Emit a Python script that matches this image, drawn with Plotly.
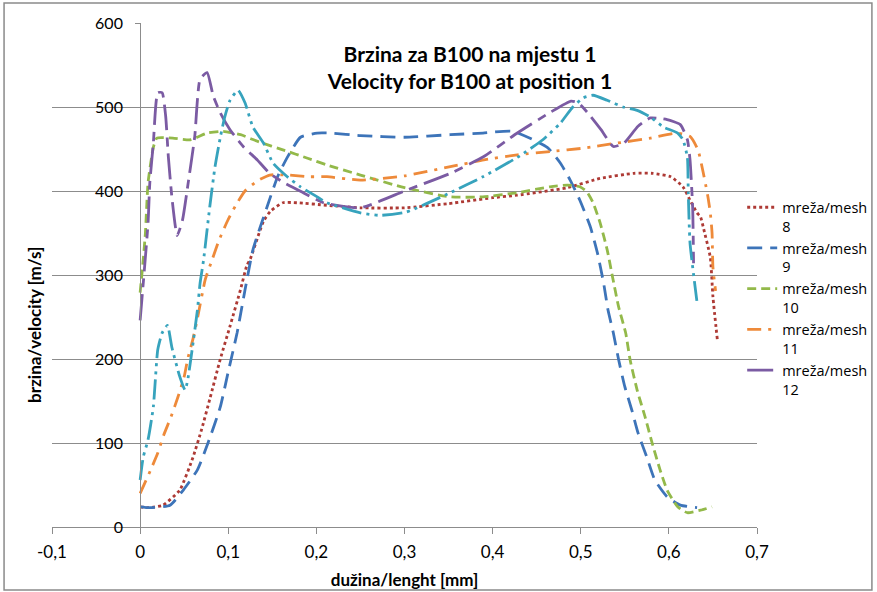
import plotly.graph_objects as go

# ---- data ----
x_m8 = [0, 0.01, 0.026, 0.045, 0.06, 0.07, 0.079, 0.091, 0.102, 0.114, 0.121, 0.125, 0.14, 0.148, 0.162, 0.178,
        0.212, 0.25, 0.3, 0.35, 0.4, 0.428, 0.485, 0.522, 0.56, 0.582, 0.602, 0.616, 0.624, 0.632, 0.636, 0.639,
        0.647, 0.65, 0.655]
y_m8 = [24, 23, 26, 44, 83, 117, 152, 200, 239, 283, 311, 319, 364, 376, 386, 386,
        383, 380, 380, 385, 392, 395, 404, 415, 421, 421, 417, 405, 389, 374, 369, 357,
        321, 274, 223]

x_m9 = [0, 0.011, 0.034, 0.049, 0.065, 0.077, 0.091, 0.1, 0.11, 0.119, 0.128, 0.144, 0.156, 0.167, 0.182, 0.201,
        0.216, 0.25, 0.3, 0.352, 0.389, 0.423, 0.462, 0.477, 0.488, 0.499, 0.511, 0.519, 0.526, 0.531, 0.537,
        0.543, 0.55, 0.558, 0.565, 0.575, 0.584, 0.598, 0.613, 0.632]
y_m9 = [24, 23, 26, 44, 68, 100, 143, 185, 231, 282, 330, 381, 417, 440, 464, 469,
        469, 466, 464, 467, 469, 471, 452, 433, 413, 389, 357, 326, 290, 258, 231,
        199, 167, 139, 112, 83, 56, 36, 26, 23]

x_m10 = [0, 0.0035, 0.006, 0.009, 0.015, 0.019, 0.037, 0.057, 0.076, 0.094, 0.114, 0.136, 0.162, 0.19, 0.212,
         0.25, 0.3, 0.352, 0.389, 0.428, 0.465, 0.485, 0.499, 0.507, 0.514, 0.522, 0.53, 0.536, 0.543, 0.551,
         0.556, 0.564, 0.573, 0.581, 0.59, 0.598, 0.61, 0.621, 0.636, 0.649]
y_m10 = [279, 318, 350, 410, 452, 463, 463, 461, 469, 471, 467, 458, 449, 439, 431,
         419, 404, 393, 393, 398, 405, 407, 405, 399, 386, 362, 330, 298, 262, 231,
         199, 163, 131, 100, 68, 44, 24, 17, 20, 24]

x_m11 = [0, 0.012, 0.02, 0.027, 0.035, 0.043, 0.05, 0.054, 0.06, 0.065, 0.074, 0.082, 0.089, 0.099, 0.108,
         0.119, 0.133, 0.147, 0.167, 0.192, 0.212, 0.25, 0.3, 0.352, 0.39, 0.428, 0.466, 0.503, 0.541, 0.579,
         0.609, 0.624, 0.633, 0.644, 0.647, 0.649, 0.65, 0.653]
y_m11 = [40, 68, 88, 110, 131, 155, 179, 200, 224, 248, 295, 319, 340, 364, 382,
         400, 412, 419, 419, 417, 417, 413, 418, 429, 437, 443, 447, 451, 457, 463,
         469, 465, 449, 395, 374, 350, 309, 281]

x_m12 = [0, 0.009, 0.011, 0.015, 0.02, 0.025, 0.029, 0.032, 0.036, 0.042, 0.048, 0.055, 0.062, 0.068, 0.076,
         0.083, 0.091, 0.102, 0.117, 0.133, 0.147, 0.163, 0.185, 0.208, 0.25, 0.3, 0.352, 0.39, 0.428, 0.466,
         0.489, 0.497, 0.508, 0.523, 0.537, 0.549, 0.565, 0.579, 0.598, 0.613, 0.621, 0.624, 0.627, 0.628]
y_m12 = [246, 362, 410, 457, 517, 517, 489, 441, 393, 347, 365, 413, 465, 533, 541,
         513, 493, 473, 453, 437, 421, 410, 398, 386, 380, 400, 421, 441, 469, 494,
         507, 505, 493, 473, 453, 457, 477, 487, 485, 479, 461, 437, 380, 314]

x_m13 = [0, 0.0035, 0.009, 0.015, 0.02, 0.025, 0.031, 0.036, 0.045, 0.051, 0.054, 0.059, 0.065, 0.068, 0.072,
         0.079, 0.085, 0.091, 0.096, 0.102, 0.111, 0.119, 0.128, 0.14, 0.151, 0.167, 0.182, 0.201, 0.212, 0.25,
         0.272, 0.302, 0.352, 0.389, 0.428, 0.457, 0.477, 0.491, 0.503, 0.514, 0.53, 0.548, 0.564, 0.579, 0.594,
         0.61, 0.616, 0.621, 0.622, 0.624, 0.632]
y_m13 = [56, 83, 104, 143, 211, 231, 240, 214, 179, 163, 175, 211, 258, 290, 318,
         381, 429, 464, 488, 508, 520, 505, 476, 457, 433, 417, 405, 393, 386, 374,
         371, 375, 398, 417, 440, 461, 481, 500, 511, 514, 508, 500, 496, 488, 476,
         469, 461, 440, 398, 338, 267]

series_names = ["mreža/mesh<br>8", "mreža/mesh<br>9", "mreža/mesh<br>10", "mreža/mesh<br>11",
                "mreža/mesh<br>12", "mreža/mesh<br>13"]

x_tick_vals = [-0.1, 0, 0.1, 0.2, 0.3, 0.4, 0.5, 0.6, 0.7]
x_tick_text = ["-0,1", "0", "0,1", "0,2", "0,3", "0,4", "0,5", "0,6", "0,7"]
y_tick_vals = [0, 100, 200, 300, 400, 500, 600]

title_lines = ["Brzina za B100 na mjestu 1", "Velocity for B100 at position 1"]
x_title = "dužina/lenght [mm]"
y_title = "brzina/velocity [m/s]"

# ---- styles ----
colors = ["#AE3A35", "#3D74B9", "#93B94A", "#EE8A3A", "#7B5BA3", "#37A3BD"]
dashes = ["3px,3px", "15px,8px", "9px,5px", "14px,7px,3px,7px", "26px,7px,9px,7px",
          "20px,5px,3px,5px,3px,5px"]
show_leg = [True, True, True, True, True, False]

xs = [x_m8, x_m9, x_m10, x_m11, x_m12, x_m13]
ys = [y_m8, y_m9, y_m10, y_m11, y_m12, y_m13]

FONT = "Lato, 'Open Sans', sans-serif"
LEGFONT = "'Open Sans', Lato, sans-serif"
GRID = "#8C8C8C"

fig = go.Figure()
for i in range(len(xs)):
    fig.add_trace(go.Scatter(
        x=xs[i], y=ys[i], mode="lines", name=series_names[i],
        showlegend=show_leg[i],
        line=dict(color=colors[i], width=2.8, dash=dashes[i], shape="spline", smoothing=0.5),
    ))

fig.update_layout(
    width=877, height=592,
    margin=dict(l=52, r=120, t=23, b=65, autoexpand=False),
    paper_bgcolor="white", plot_bgcolor="white",
    font=dict(family=FONT, size=16, color="#000000"),
    title=dict(text="<b>" + title_lines[0] + "</b><br><b>" + title_lines[1] + "</b>",
               x=470 / 877, xanchor="center", y=1 - 62 / 592, yanchor="top",
               font=dict(family=FONT, size=21, color="#000000")),
    showlegend=True,
    legend=dict(x=0.979, xanchor="left", y=0.666, yanchor="top",
                font=dict(family=LEGFONT, size=14.5, color="#000000"),
                valign="top", tracegroupgap=0, bgcolor="rgba(0,0,0,0)"),
    xaxis=dict(range=[-0.1, 0.7], tickvals=x_tick_vals, ticktext=x_tick_text,
               showgrid=False, zeroline=False, showline=True, linecolor=GRID, linewidth=1,
               ticks="outside", ticklen=6, tickcolor=GRID, tickwidth=1, ticklabelstandoff=4,
               tickfont=dict(family=FONT, size=17), automargin=False,
               title=dict(text="<b>" + x_title + "</b>", font=dict(family=FONT, size=17), standoff=12)),
    yaxis=dict(range=[0, 600], tickvals=y_tick_vals, anchor="free", position=0.125,
               showgrid=True, gridcolor=GRID, gridwidth=1, zeroline=False,
               showline=True, linecolor=GRID, linewidth=1, automargin=False,
               ticks="outside", ticklen=5, tickcolor=GRID, ticklabelstandoff=9,
               tickfont=dict(family=FONT, size=16)),
    annotations=[dict(text="<b>" + y_title + "</b>", xref="paper", yref="paper",
                      x=-0.024, y=0.401, xanchor="center", yanchor="middle",
                      textangle=-90, showarrow=False,
                      font=dict(family=FONT, size=17, color="#000000"))],
    shapes=[dict(type="rect", xref="paper", yref="paper",
                 x0=-0.068, x1=1.163, y0=-0.125, y1=1.0397,
                 line=dict(color="#8A8A8A", width=1.5), fillcolor="rgba(0,0,0,0)", layer="below")],
)

fig.write_html(
    "out.html",
    config={"displayModeBar": False},
    post_script=("document.documentElement.style.overflow='hidden';"
                 "document.body.style.overflow='hidden';"
                 "document.body.style.margin='0px';"),
)
